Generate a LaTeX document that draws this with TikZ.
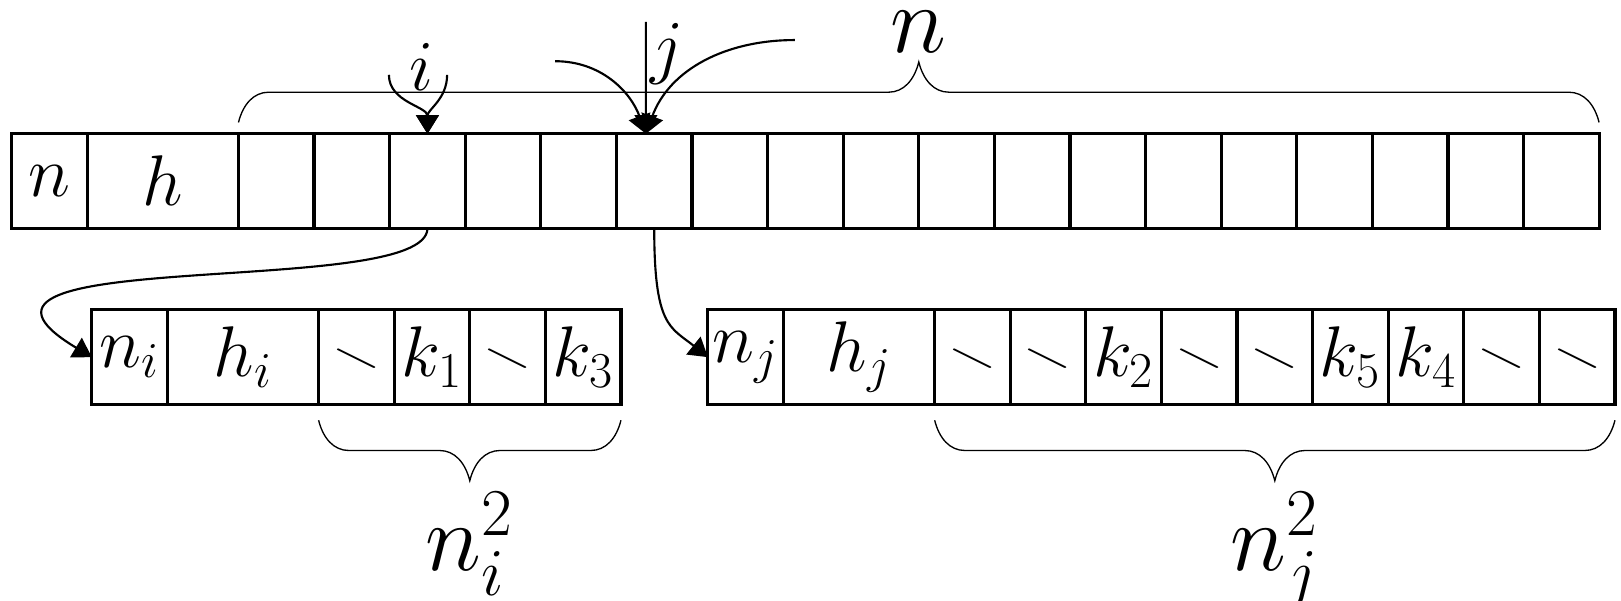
\RequirePackage{fix-cm}
\documentclass[tikz,border=0pt]{standalone}
\usepackage{amsmath,amssymb}
\usepackage{tikz}
\usetikzlibrary{arrows.meta,decorations.pathreplacing,positioning}

\newcommand{\nil}{\scalebox{0.9}[0.6]{$\smallsetminus$}}

\begin{document}
\begin{tikzpicture}[x=1cm,y=1cm,
  cell/.style={draw,line width=1.2pt,minimum width=1cm,minimum height=1.25cm,inner sep=0pt,outer sep=0pt,anchor=south west,font=\fontsize{27}{30}\selectfont},
  wcell/.style={cell,minimum width=2cm},
  txt/.style={inner sep=0pt,font=\fontsize{27}{30}\selectfont},
  lbl/.style={inner sep=0pt,font=\fontsize{36}{40}\selectfont},
  arr/.style={line width=0.8pt,-{Triangle[length=7pt,width=8.5pt]}},
  brc/.style={line width=0.5pt,decorate,decoration={brace,amplitude=0.4cm,transform={yscale=2}}},
  brcdown/.style={line width=0.5pt,decorate,decoration={brace,amplitude=0.4cm,transform={yscale=-2}}}]
\useasboundingbox (-0.155,-4.93) rectangle (21.29,3.02);

% top table
\node[cell] (tn) at (0,0) {$n$};
\node[wcell] (th) at (1,0) {$h$};
\foreach \k in {1,...,18}
  \node[cell] (t\k) at (\k+2,0) {};

% bucket i
\node[cell] (ln) at (1.06,-2.33) {$n_i$};
\node[wcell] (lh) at (2.06,-2.33) {$h_i$};
\foreach \k/\v in {1/\nil,2/k_1,3/\nil,4/k_3}
  \node[cell] (l\k) at (3.06+\k,-2.33) {$\v$};

% bucket j
\node[cell] (rn) at (9.21,-2.33) {$n_j$};
\node[wcell] (rh) at (10.21,-2.33) {$h_j$};
\foreach \k/\v in {1/\nil,2/\nil,3/k_2,4/\nil,5/\nil,6/k_5,7/k_4,8/\nil,9/\nil}
  \node[cell] (r\k) at (11.21+\k,-2.33) {$\v$};

% braces
\draw[brc] ([yshift=0.15cm]t1.north west) -- ([yshift=0.15cm]t18.north east)
  node[lbl,midway,above=0.92cm] (nlbl) {$n$};
\draw[brcdown] ([yshift=-0.21cm]l1.south west) -- ([yshift=-0.21cm]l4.south east)
  node[lbl,midway,below=0.95cm] (nilbl) {$n_i^2$};
\draw[brcdown] ([yshift=-0.21cm]r1.south west) -- ([yshift=-0.21cm]r9.south east)
  node[lbl,midway,below=0.95cm] (njlbl) {$n_j^2$};

% hash i
\coordinate (ia) at (4.99,2.03);
\coordinate (ib) at (5.76,2.03);
\node[txt] (ilbl) at (5.42,2.14) {$i$};
\draw[arr] (ia) to[out=-90,in=90] (t3.north);
\draw[arr] (ib) to[out=-90,in=90] (t3.north);

% hash j
\coordinate (jt) at ([xshift=-0.11cm]t6.north);
\coordinate (ja) at (7.19,2.21);
\coordinate (jb) at (8.39,2.73);
\coordinate (jc) at (10.36,2.49);
\node[txt] (jlbl) at (8.67,2.31) {$j$};
\draw[arr] (ja) to[out=0,in=110] (jt);
\draw[arr] (jb) -- (jt);
\draw[arr] (jc) to[out=180,in=70] (jt);

% pointers to buckets
\draw[arr] (t3.south) .. controls +(0,-0.95) and +(-2.5,1.5) .. (ln.west);
\draw[arr] (t6.south) .. controls +(0,-1.3) and +(-0.5,0.4) .. (rn.west);
\end{tikzpicture}
\end{document}
